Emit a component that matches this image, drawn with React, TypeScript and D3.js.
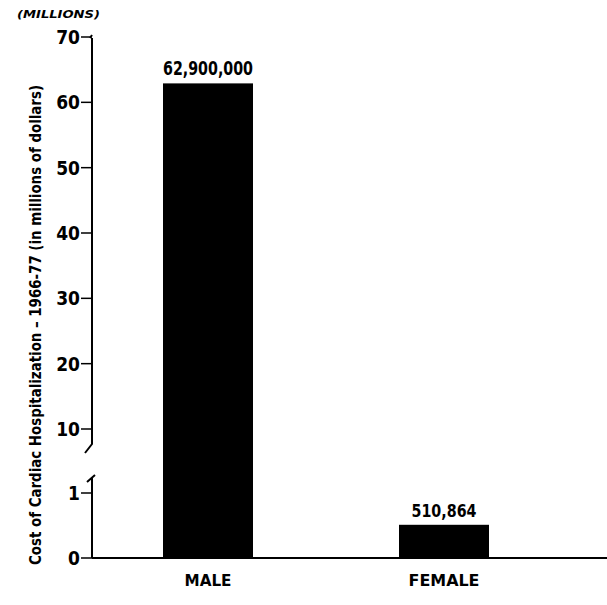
import * as d3 from "d3";

const categories = ["MALE", "FEMALE"];
const values = [62.9, 0.510864];
const valueLabels = ["62,900,000", "510,864"];
const upperTicks = [10, 20, 30, 40, 50, 60, 70];
const lowerTicks = [0, 1];

const W = 607;
const H = 605;
const FONT = "'Liberation Sans Narrow', 'DejaVu Sans Condensed', 'Arial Narrow', sans-serif";

const App = () => {
  const axisX = 92;
  const yTop = d3.scaleLinear().domain([10, 70]).range([429, 37]);
  const yBot = d3.scaleLinear().domain([0, 1]).range([558, 493]);
  const x = d3.scalePoint<string>().domain(categories).range([90, 562]).padding(0.5);
  const barW = 90;

  // pick the scale segment a value lives on
  const yOf = (v: number) => (v >= 10 ? yTop(v) : yBot(v));
  const breakTop = yTop(10) + 21;
  const breakBot = yBot(1) - 18;

  const valueWidths = [90, 65];
  const catWidths = [47, 71];

  return (
    <svg
      width={W}
      height={H}
      viewBox={`0 0 ${W} ${H}`}
      style={{ position: "absolute", left: 0, top: 0, background: "white" }}
    >
      <g fontFamily={FONT} fontWeight="bold" fill="black">
        {/* bars */}
        {categories.map((c, i) => (
          <g key={c}>
            <rect
              x={x(c)! - barW / 2}
              y={yOf(values[i])}
              width={barW}
              height={yBot(0) - yOf(values[i])}
              fill="black"
            />
            <text
              x={x(c)}
              y={yOf(values[i]) - 8}
              textAnchor="middle"
              fontSize={i === 0 ? 20 : 18}
              textLength={valueWidths[i]}
              lengthAdjust="spacingAndGlyphs"
            >
              {valueLabels[i]}
            </text>
            <text
              x={x(c)}
              y={586}
              textAnchor="middle"
              fontSize={16}
              textLength={catWidths[i]}
              lengthAdjust="spacingAndGlyphs"
            >
              {c}
            </text>
          </g>
        ))}

        {/* axis, upper segment with break */}
        <path
          d={`M${axisX},${yTop(70) + 1} L${axisX},${breakTop - 6} L${axisX - 7},${breakTop + 3}`}
          fill="none"
          stroke="black"
          strokeWidth={2}
        />
        <path d={`M${axisX - 2},${yTop(70) + 1} L${axisX},${yTop(70) - 2}`} stroke="black" strokeWidth={2} />
        {/* lower segment */}
        <path
          d={`M${axisX - 5},${breakBot + 7} L${axisX + 3},${breakBot} M${axisX},${breakBot + 2} L${axisX},${yBot(0)}`}
          fill="none"
          stroke="black"
          strokeWidth={2}
        />
        {/* baseline */}
        <line x1={axisX} x2={W} y1={yBot(0)} y2={yBot(0)} stroke="black" strokeWidth={2} />

        {upperTicks.map((t) => (
          <g key={"u" + t}>
            <line x1={axisX - 11} x2={axisX} y1={yTop(t)} y2={yTop(t)} stroke="black" strokeWidth={1.5} />
            <text x={axisX - 12} y={yTop(t)} dy="0.36em" textAnchor="end" fontSize={19}>
              {t}
            </text>
          </g>
        ))}
        {lowerTicks.map((t) => (
          <g key={"l" + t}>
            <line x1={axisX - 11} x2={axisX} y1={yBot(t)} y2={yBot(t)} stroke="black" strokeWidth={1.5} />
            <text x={axisX - 12} y={yBot(t)} dy="0.36em" textAnchor="end" fontSize={19}>
              {t}
            </text>
          </g>
        ))}

        <text
          x={17}
          y={18}
          fontSize={11}
          fontStyle="italic"
          textLength={83}
          lengthAdjust="spacingAndGlyphs"
        >
          (MILLIONS)
        </text>

        <text
          transform={`translate(41, 325) rotate(-90)`}
          textAnchor="middle"
          fontSize={16}
          textLength={480}
          lengthAdjust="spacingAndGlyphs"
        >
          Cost of Cardiac Hospitalization – 1966-77 (in millions of dollars)
        </text>
      </g>
    </svg>
  );
};

export default App;
